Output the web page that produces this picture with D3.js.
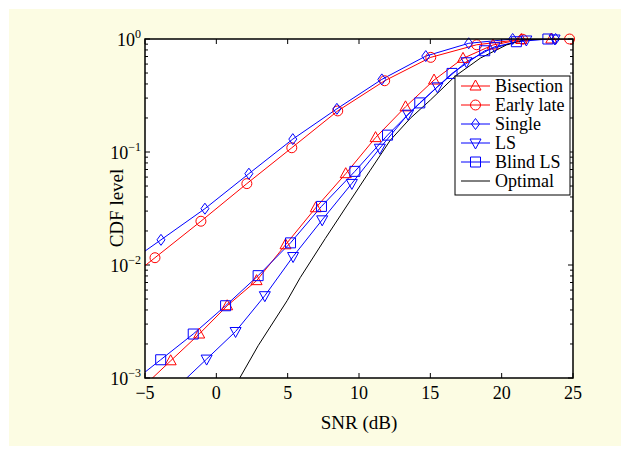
<!doctype html>
<html lang="en">
<head>
    <meta charset="utf-8">
    <title>CDF level vs SNR</title>
    <script src="https://cdn.jsdelivr.net/npm/d3@7"></script>
    <style>
        body { margin: 0; background: #ffffff; }
        text { font-family: "Liberation Serif", "Times New Roman", serif; fill: #000; }
    </style>
</head>
<body>
<svg id="chart" width="629" height="454"></svg>
<script>
    // values (SNR in dB, CDF level)
    var singleSnr = [-6.96, -3.88, -0.80, 2.28, 5.36, 8.45, 11.60, 14.68, 17.69, 20.77, 23.78];
    var singleCdf = [0.0089, 0.0167, 0.0315, 0.0643, 0.130, 0.241, 0.439, 0.706, 0.916, 1.0, 1.0];

    var earlySnr = [-7.52, -4.30, -1.08, 2.14, 5.29, 8.51, 11.80, 15.03, 18.25, 21.47, 24.76];
    var earlyCdf = [0.0055, 0.0116, 0.0244, 0.0525, 0.109, 0.231, 0.427, 0.688, 0.889, 0.995, 1.0];

    var bisectSnr = [-5.2, -3.2, -1.2, 0.76, 2.82, 4.85, 6.97, 9.07, 11.16, 13.26, 15.26, 17.29, 19.39, 21.38, 23.48];
    var bisectCdf = [0.00082, 0.00142, 0.00245, 0.00436, 0.00727, 0.0151, 0.0321, 0.0643, 0.134, 0.251, 0.433, 0.674, 0.885, 0.99, 1.0];

    var lsSnr = [-2.71, -0.68, 1.35, 3.40, 5.38, 7.42, 9.50, 11.46, 13.44, 15.50, 17.53, 19.51, 21.73, 23.71];
    var lsCdf = [0.00084, 0.00147, 0.00258, 0.00535, 0.01188, 0.0251, 0.0527, 0.108, 0.216, 0.377, 0.629, 0.855, 0.98, 1.0];

    var blindSnr = [-6.18, -3.90, -1.62, 0.65, 2.93, 5.20, 7.37, 9.71, 12.0, 14.26, 16.52, 18.81, 21.03, 23.24];
    var blindCdf = [0.00086, 0.00145, 0.00245, 0.00436, 0.00805, 0.0157, 0.033, 0.0674, 0.141, 0.272, 0.496, 0.787, 0.946, 1.0];

    var optSnr = [1.60, 2.93, 4.96, 5.88, 7.63, 9.39, 10.79, 12.19, 13.60, 15.0, 16.75, 18.51, 20.33, 21.53, 23.07, 25];
    var optCdf = [0.00098, 0.00193, 0.00483, 0.00773, 0.0171, 0.0372, 0.0689, 0.127, 0.199, 0.288, 0.470, 0.678, 0.885, 0.98, 1.0, 1.0];

    var xTicks = [-5, 0, 5, 10, 15, 20, 25];
    var yTicks = [1e-3, 1e-2, 1e-1, 1];
    var yExps = ["\u22123", "\u22122", "\u22121", "0"];

    var series = [
        { name: "Bisection", snr: bisectSnr, cdf: bisectCdf, color: "#ff0000", marker: "up" },
        { name: "Early late", snr: earlySnr, cdf: earlyCdf, color: "#ff0000", marker: "circle" },
        { name: "Single", snr: singleSnr, cdf: singleCdf, color: "#0000ff", marker: "diamond" },
        { name: "LS", snr: lsSnr, cdf: lsCdf, color: "#0000ff", marker: "down" },
        { name: "Blind LS", snr: blindSnr, cdf: blindCdf, color: "#0000ff", marker: "square" },
        { name: "Optimal", snr: optSnr, cdf: optCdf, color: "#000000", marker: null }
    ];

    var pL = 145, pR = 573, pT = 39, pB = 378;
    var x = d3.scaleLinear().domain([-5, 25]).range([pL, pR]);
    var y = d3.scaleLog().domain([1e-3, 1]).range([pB, pT]);

    var svg = d3.select("#chart");
    // yellow figure panel with a thin white margin
    svg.append("rect").attr("x", 9).attr("y", 9).attr("width", 612).attr("height", 437)
        .attr("fill", "#fcfce3");
    svg.append("rect").attr("x", pL).attr("y", pT).attr("width", pR - pL).attr("height", pB - pT)
        .attr("fill", "#ffffff");

    svg.append("defs").append("clipPath").attr("id", "clip")
        .append("rect").attr("x", pL).attr("y", pT).attr("width", pR - pL).attr("height", pB - pT);

    // ticks, inward, on all four sides
    var minor = [];
    for (var e = -3; e < 0; e++) {
        for (var m = 2; m <= 9; m++) minor.push(m * Math.pow(10, e));
    }
    var tg = svg.append("g").attr("stroke", "#000").attr("stroke-width", 1);
    xTicks.forEach(function (t) {
        tg.append("line").attr("x1", x(t)).attr("x2", x(t)).attr("y1", pB).attr("y2", pB - 5);
        tg.append("line").attr("x1", x(t)).attr("x2", x(t)).attr("y1", pT).attr("y2", pT + 5);
    });
    yTicks.forEach(function (t) {
        tg.append("line").attr("x1", pL).attr("x2", pL + 5).attr("y1", y(t)).attr("y2", y(t));
        tg.append("line").attr("x1", pR).attr("x2", pR - 5).attr("y1", y(t)).attr("y2", y(t));
    });
    minor.forEach(function (t) {
        tg.append("line").attr("x1", pL).attr("x2", pL + 3).attr("y1", y(t)).attr("y2", y(t));
        tg.append("line").attr("x1", pR).attr("x2", pR - 3).attr("y1", y(t)).attr("y2", y(t));
    });

    // lines
    var line = d3.line().x(function (d) { return x(d[0]); }).y(function (d) { return y(d[1]); });
    var plot = svg.append("g");
    series.forEach(function (s) {
        var pts = d3.zip(s.snr, s.cdf);
        plot.append("path").attr("d", line(pts)).attr("clip-path", "url(#clip)")
            .attr("fill", "none").attr("stroke", s.color).attr("stroke-width", 1);
    });

    function markerPath(kind) {
        if (kind === "circle") return d3.symbol(d3.symbolCircle, 78)();
        if (kind === "square") return "M-5,-5H5V5H-5Z";
        if (kind === "diamond") return "M0,-5.5L4,0L0,5.5L-4,0Z";
        if (kind === "up") return "M0,-6L5.5,4L-5.5,4Z";
        if (kind === "down") return "M0,6L5.5,-4L-5.5,-4Z";
        return null;
    }

    series.forEach(function (s) {
        if (!s.marker) return;
        var pts = d3.zip(s.snr, s.cdf).filter(function (d) { return d[0] >= -5 && d[0] <= 25 && d[1] >= 1e-3; });
        plot.selectAll(null).data(pts).enter().append("path")
            .attr("d", markerPath(s.marker))
            .attr("transform", function (d) { return "translate(" + x(d[0]) + "," + y(d[1]) + ")"; })
            .attr("fill", "none").attr("stroke", s.color).attr("stroke-width", 1);
    });

    // frame
    svg.append("rect").attr("x", pL).attr("y", pT).attr("width", pR - pL).attr("height", pB - pT)
        .attr("fill", "none").attr("stroke", "#000").attr("stroke-width", 1.5);

    // tick labels
    svg.selectAll(null).data(xTicks).enter().append("text")
        .attr("x", function (d) { return x(d); }).attr("y", 399)
        .attr("text-anchor", "middle").attr("font-size", 18)
        .text(function (d) { return d < 0 ? "\u2212" + Math.abs(d) : d; });

    yTicks.forEach(function (t, i) {
        var lab = svg.append("text").attr("x", 141).attr("y", y(t) + 7)
            .attr("text-anchor", "end").attr("font-size", 18);
        lab.append("tspan").text("10");
        lab.append("tspan").attr("dy", -8).attr("font-size", 12).text(yExps[i]);
    });

    svg.append("text").attr("x", (pL + pR) / 2).attr("y", 429)
        .attr("text-anchor", "middle").attr("font-size", 19).text("SNR (dB)");
    svg.append("text").attr("transform", "translate(123,208) rotate(-90)")
        .attr("text-anchor", "middle").attr("font-size", 19).text("CDF level");

    // legend
    var lg = svg.append("g");
    lg.append("rect").attr("x", 455).attr("y", 76).attr("width", 115).attr("height", 119)
        .attr("fill", "#ffffff").attr("stroke", "#000").attr("stroke-width", 1);
    series.forEach(function (s, i) {
        var ly = 86 + i * 19;
        lg.append("line").attr("x1", 461).attr("x2", 490).attr("y1", ly).attr("y2", ly)
            .attr("stroke", s.color).attr("stroke-width", 1);
        if (s.marker) {
            lg.append("path").attr("d", markerPath(s.marker)).attr("transform", "translate(475.5," + ly + ")")
                .attr("fill", "none").attr("stroke", s.color).attr("stroke-width", 1);
        }
        lg.append("text").attr("x", 495).attr("y", ly + 6).attr("font-size", 18).text(s.name);
    });
</script>
</body>
</html>
